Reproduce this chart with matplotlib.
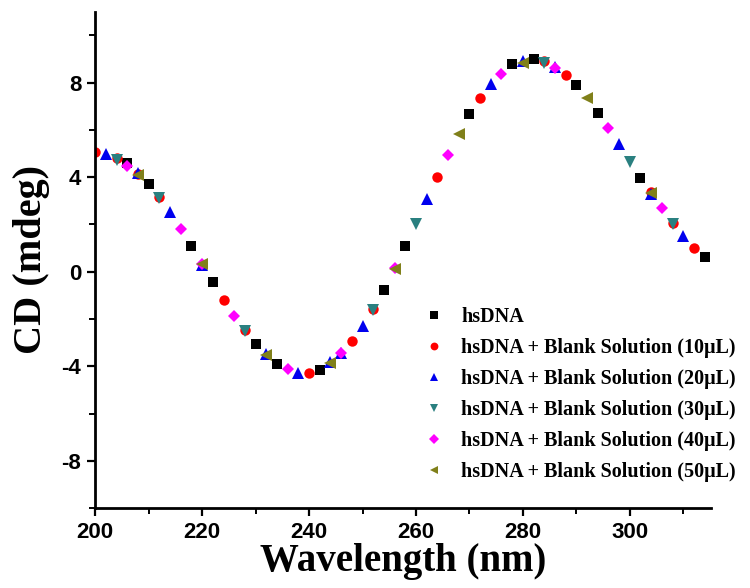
import matplotlib
matplotlib.use("Agg")
import matplotlib.pyplot as plt
from matplotlib.ticker import MultipleLocator

# wavelength (nm) and CD (mdeg) for each sample
hs_x = [206, 210, 218, 222, 230, 234, 242, 254, 258, 270, 278, 282, 290, 294, 302, 314]
hs_y = [4.6, 3.7, 1.07, -0.45, -3.08, -3.92, -4.15, -0.77, 1.08, 6.66, 8.77, 9.02, 7.9, 6.7, 3.96, 0.64]

b10_x = [200, 204, 208, 212, 224, 228, 240, 248, 252, 264, 272, 284, 288, 304, 308, 312]
b10_y = [5.08, 4.8, 4.15, 3.15, -1.18, -2.48, -4.3, -2.95, -1.56, 4.0, 7.36, 8.9, 8.34, 3.36, 2.06, 1.02]

b20_x = [202, 208, 214, 220, 232, 238, 244, 246, 250, 262, 274, 280, 286, 298, 304, 310]
b20_y = [4.98, 4.18, 2.52, 0.3, -3.5, -4.28, -3.83, -3.42, -2.3, 3.06, 7.96, 8.9, 8.68, 5.4, 3.3, 1.53]

b30_x = [204, 212, 228, 252, 260, 284, 300, 308]
b30_y = [4.72, 3.1, -2.52, -1.6, 2.03, 8.84, 4.66, 2.01]

b40_x = [206, 216, 220, 226, 236, 246, 256, 266, 276, 286, 296, 306]
b40_y = [4.48, 1.82, 0.34, -1.86, -4.12, -3.45, 0.15, 4.93, 8.38, 8.62, 6.08, 2.68]

b50_x = [208, 220, 232, 244, 256, 268, 280, 292, 304]
b50_y = [4.1, 0.32, -3.52, -3.85, 0.12, 5.83, 8.85, 7.33, 3.33]

labels = [
    "hsDNA",
    "hsDNA + Blank Solution (10\u03bcL)",
    "hsDNA + Blank Solution (20\u03bcL)",
    "hsDNA + Blank Solution (30\u03bcL)",
    "hsDNA + Blank Solution (40\u03bcL)",
    "hsDNA + Blank Solution (50\u03bcL)",
]

plt.rcParams["axes.unicode_minus"] = False

fig = plt.figure(figsize=(7.5, 5.88), dpi=100)
ax = fig.add_axes([0.127, 0.136, 0.821, 0.844])

series = [
    (hs_x, hs_y, "s", "black", 7),
    (b10_x, b10_y, "o", "red", 7.5),
    (b20_x, b20_y, "^", "#0000ee", 8),
    (b30_x, b30_y, "v", "#2a8080", 8),
    (b40_x, b40_y, "D", "magenta", 6.3),
    (b50_x, b50_y, "<", "#80801a", 8),
]
for (x, y, m, c, ms), lab in zip(series, labels):
    ax.plot(x, y, linestyle="none", marker=m, color=c, markersize=ms,
            markeredgewidth=0, label=lab)

ax.set_xlim(200, 315.2)
ax.set_ylim(-10, 11)
ax.xaxis.set_major_locator(MultipleLocator(20))
ax.xaxis.set_minor_locator(MultipleLocator(10))
ax.yaxis.set_major_locator(MultipleLocator(4))
ax.yaxis.set_minor_locator(MultipleLocator(2))

for side in ["top", "right"]:
    ax.spines[side].set_visible(False)
for side in ["left", "bottom"]:
    ax.spines[side].set_linewidth(2)

tick_font = ["Liberation Sans Narrow", "Liberation Sans", "DejaVu Sans"]
ax.tick_params(which="major", direction="out", length=6, width=1.6, pad=4)
ax.tick_params(which="minor", direction="out", length=4, width=1.4)
for t in ax.get_xticklabels() + ax.get_yticklabels():
    t.set_family(tick_font)
    t.set_fontsize(16)
    t.set_fontweight("bold")

ax.set_xlabel("Wavelength (nm)", family=["Liberation Serif"], fontsize=28,
              fontweight="bold", labelpad=0)
ax.set_ylabel("CD (mdeg)", family=["Liberation Serif"], fontsize=29,
              fontweight="bold", labelpad=8)

leg = ax.legend(loc="lower right", bbox_to_anchor=(1.07, 0.015), frameon=False,
                prop={"family": "Liberation Serif", "weight": "bold", "size": 14.5},
                handletextpad=0.6, labelspacing=0.55, markerscale=0.75,
                handlelength=1.5)

fig.savefig("out.png", dpi=100)
